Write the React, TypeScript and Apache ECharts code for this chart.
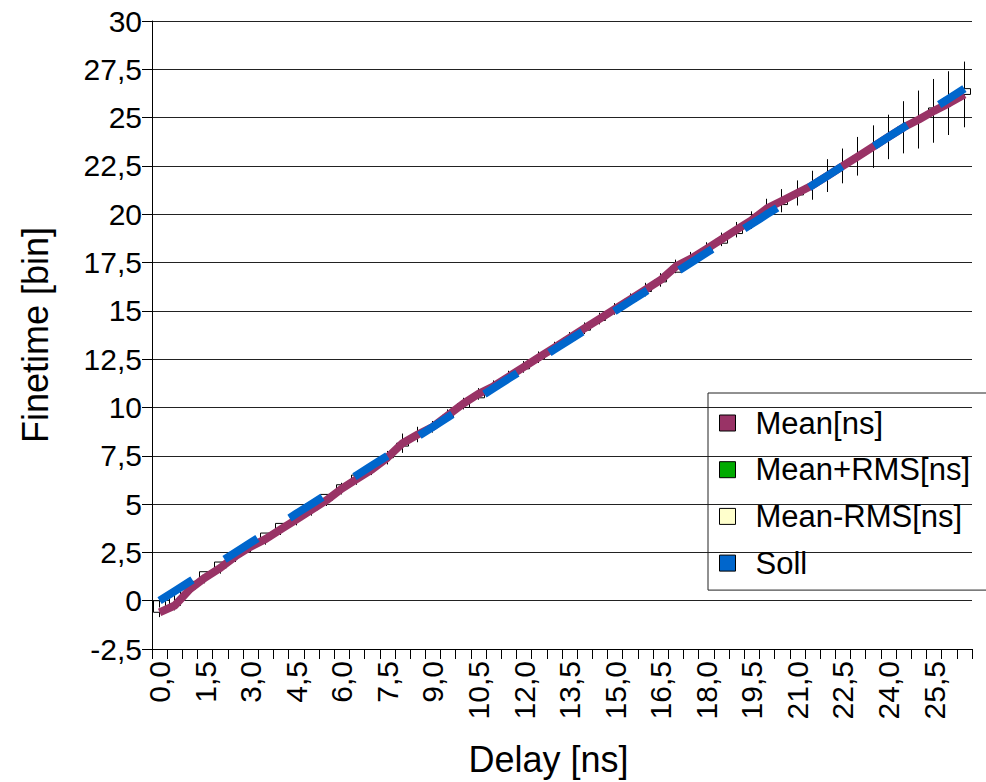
import React, { useEffect, useRef } from "react";
import * as echarts from "echarts";

const categories = [
  "0,0","0,5","1,0","1,5","2,0","2,5","3,0","3,5","4,0","4,5",
  "5,0","5,5","6,0","6,5","7,0","7,5","8,0","8,5","9,0","9,5",
  "10,0","10,5","11,0","11,5","12,0","12,5","13,0","13,5","14,0","14,5",
  "15,0","15,5","16,0","16,5","17,0","17,5","18,0","18,5","19,0","19,5",
  "20,0","20,5","21,0","21,5","22,0","22,5","23,0","23,5","24,0","24,5",
  "25,0","25,5","26,0","26,5",
];

const soll = [
  0, 0.5, 1, 1.5, 2, 2.5, 3, 3.5, 4, 4.5,
  5, 5.5, 6, 6.5, 7, 7.5, 8, 8.5, 9, 9.5,
  10, 10.5, 11, 11.5, 12, 12.5, 13, 13.5, 14, 14.5,
  15, 15.5, 16, 16.5, 17, 17.5, 18, 18.5, 19, 19.5,
  20, 20.5, 21, 21.5, 22, 22.5, 23, 23.5, 24, 24.5,
  25, 25.5, 26, 26.5,
];

const mean = [
  -0.6, -0.25, 0.6, 1.2, 1.7, 2.3, 2.8, 3.2, 3.7, 4.2,
  4.7, 5.2, 5.8, 6.3, 6.8, 7.4, 8.15, 8.6, 9.0, 9.6,
  10.2, 10.7, 11.1, 11.6, 12.1, 12.6, 13.1, 13.6, 14.1, 14.6,
  15.1, 15.6, 16.1, 16.6, 17.3, 17.7, 18.2, 18.7, 19.2, 19.7,
  20.3, 20.7, 21.1, 21.5, 22.0, 22.5, 23.0, 23.5, 24.0, 24.5,
  24.9, 25.35, 25.75, 26.2,
];

const rms = [
  0.25, 0.25, 0.3, 0.3, 0.3, 0.3, 0.3, 0.3, 0.3, 0.3,
  0.3, 0.3, 0.3, 0.3, 0.3, 0.35, 0.5, 0.4, 0.3, 0.3,
  0.3, 0.3, 0.3, 0.3, 0.3, 0.3, 0.3, 0.3, 0.3, 0.3,
  0.3, 0.3, 0.35, 0.35, 0.35, 0.35, 0.35, 0.35, 0.4, 0.45,
  0.5, 0.6, 0.65, 0.75, 0.85, 0.9, 1.0, 1.1, 1.15, 1.35,
  1.5, 1.65, 1.65, 1.7,
];

const FONT = "'Liberation Sans', Arial, sans-serif";

function fmt(v: number): string {
  if (Number.isInteger(v)) return String(v);
  return v.toFixed(1).replace(".", ",");
}

export default function App() {
  const ref = useRef<HTMLDivElement>(null);

  useEffect(() => {
    if (!ref.current) return;
    const chart = echarts.init(ref.current, undefined, { renderer: "svg" });

    const candle = mean.map((m, i) => [m, soll[i], m - rms[i], m + rms[i]]);

    chart.setOption({
      animation: false,
      backgroundColor: "#ffffff",
      textStyle: { fontFamily: FONT },
      grid: { left: 152, top: 21, right: 14, bottom: 130, containLabel: false },
      legend: {
        orient: "vertical",
        left: 708,
        top: 393,
        padding: [14.5, 60, 11.5, 11],
        borderColor: "#222",
        borderWidth: 1,
        itemWidth: 16,
        itemHeight: 16,
        itemGap: 15.7,
        selectedMode: false,
        textStyle: {
          fontFamily: FONT,
          fontSize: 31,
          lineHeight: 31,
          color: "#000",
          padding: [0, 0, 0, 15],
        },
        data: [
          { name: "Mean[ns]", icon: "rect", itemStyle: { color: "#993366", borderColor: "#000", borderWidth: 1 } },
          { name: "Mean+RMS[ns]", icon: "rect", itemStyle: { color: "#00aa00", borderColor: "#000", borderWidth: 1 } },
          { name: "Mean-RMS[ns]", icon: "rect", itemStyle: { color: "#ffffcc", borderColor: "#000", borderWidth: 1 } },
          { name: "Soll", icon: "rect", itemStyle: { color: "#0066cc", borderColor: "#000", borderWidth: 1 } },
        ],
      },
      xAxis: {
        type: "category",
        data: categories,
        boundaryGap: true,
        name: "Delay [ns]",
        nameLocation: "middle",
        nameGap: 92,
        nameTextStyle: { fontFamily: FONT, fontSize: 36, color: "#000", padding: [0, 27, 0, 0] },
        axisLine: { onZero: false, lineStyle: { color: "#000", width: 1 } },
        axisTick: { show: true, interval: 0, length: 10, lineStyle: { color: "#000" } },
        axisLabel: {
          interval: 2,
          rotate: 90,
          margin: 12,
          fontFamily: FONT,
          fontSize: 30,
          color: "#000",
        },
        splitLine: { show: false },
      },
      yAxis: {
        type: "value",
        min: -2.5,
        max: 30,
        interval: 2.5,
        name: "Finetime [bin]",
        nameLocation: "middle",
        nameGap: 99,
        nameRotate: 90,
        nameTextStyle: { fontFamily: FONT, fontSize: 36, color: "#000" },
        axisLine: { show: true, lineStyle: { color: "#000", width: 1 } },
        axisTick: { show: true, length: 10, lineStyle: { color: "#000" } },
        axisLabel: {
          margin: 10,
          fontFamily: FONT,
          fontSize: 30,
          color: "#000",
          formatter: (v: number) => fmt(v),
        },
        splitLine: { show: true, lineStyle: { color: "#222", width: 1 } },
      },
      series: [
        {
          name: "RMS range",
          type: "candlestick",
          data: candle,
          barWidth: 12,
          z: 1,
          itemStyle: {
            color: "#ffffff",
            color0: "#ffffff",
            borderColor: "#000000",
            borderColor0: "#000000",
            borderWidth: 1,
          },
        },
        {
          name: "Mean[ns]",
          type: "line",
          data: mean,
          symbol: "none",
          z: 2,
          itemStyle: { color: "#993366" },
          lineStyle: { color: "#993366", width: 8 },
        },
        {
          name: "Mean+RMS[ns]",
          type: "line",
          data: [],
          symbol: "none",
          itemStyle: { color: "#00aa00" },
        },
        {
          name: "Mean-RMS[ns]",
          type: "line",
          data: [],
          symbol: "none",
          itemStyle: { color: "#ffffcc" },
        },
        {
          name: "Soll",
          type: "line",
          data: soll,
          symbol: "none",
          z: 3,
          itemStyle: { color: "#0066cc" },
          lineStyle: { color: "#0066cc", width: 8, type: [39, 38], cap: "butt" },
        },
      ],
    });

    return () => chart.dispose();
  }, []);

  return (
    <div
      ref={ref}
      style={{ position: "fixed", left: 0, top: 0, width: 986, height: 782 }}
    />
  );
}
